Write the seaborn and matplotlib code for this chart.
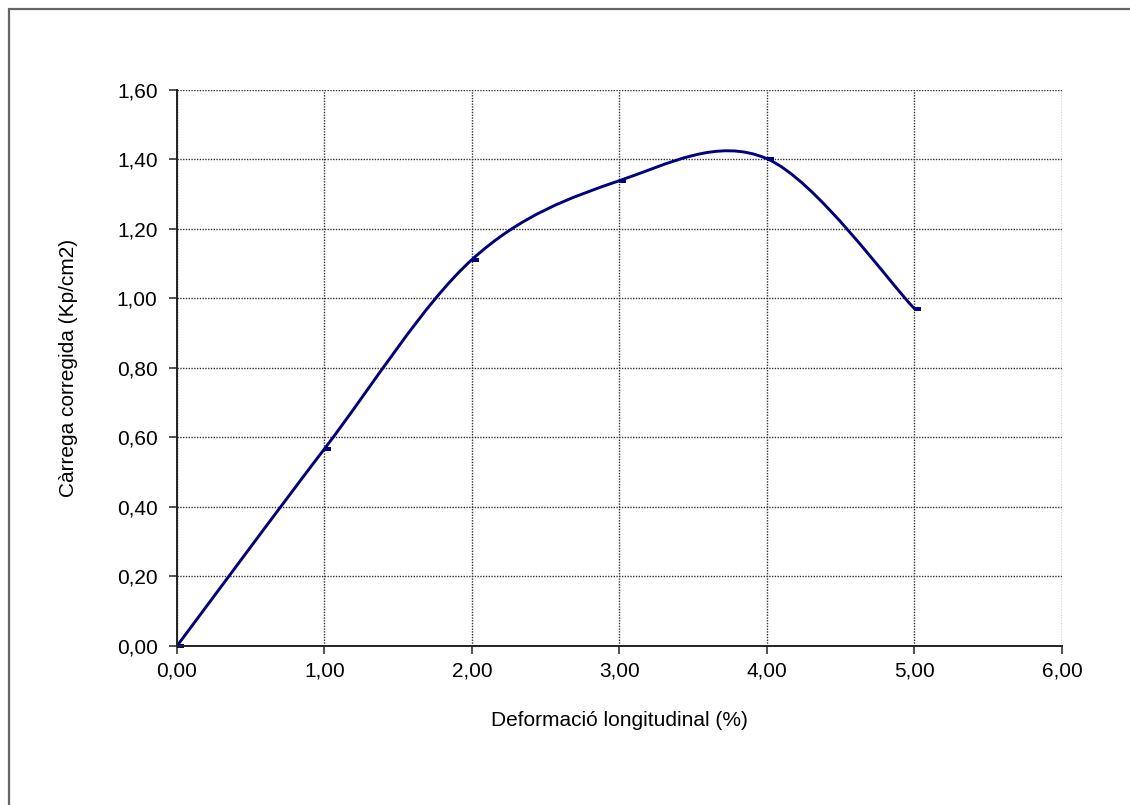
import numpy as np
import pandas as pd
import matplotlib
matplotlib.use("Agg")
import matplotlib.pyplot as plt
import seaborn as sns
from matplotlib.path import Path
from matplotlib.patches import PathPatch, Rectangle
from matplotlib.ticker import FuncFormatter, MultipleLocator

# Data
deformacio = [0.0, 1.0, 2.0, 3.0, 4.0, 5.0]
carrega = [0.0, 0.567, 1.111, 1.338, 1.401, 0.970]

x_label = "Deformació longitudinal (%)"
y_label = "Càrrega corregida (Kp/cm2)"

df = pd.DataFrame({"x": deformacio, "y": carrega})

sns.set_theme(style="white")
plt.rcParams["font.family"] = ["Liberation Sans", "DejaVu Sans"]

fig = plt.figure(figsize=(11.3, 8.05), dpi=100)
ax = fig.add_axes([0.1566, 0.1975, 0.9398 - 0.1566, 0.8888 - 0.1975])

navy = "#000080"

# Excel-style smoothed line: cubic Bezier segments through the points
pts = df[["x", "y"]].to_numpy()
n = len(pts)
verts = [tuple(pts[0])]
codes = [Path.MOVETO]
for i in range(n - 1):
    p0 = pts[max(i - 1, 0)]
    p1 = pts[i]
    p2 = pts[i + 1]
    p3 = pts[min(i + 2, n - 1)]
    c1 = p1 + (p2 - p0) / 6.0
    c2 = p2 - (p3 - p1) / 6.0
    verts += [tuple(c1), tuple(c2), tuple(p2)]
    codes += [Path.CURVE4] * 3
ax.add_patch(PathPatch(Path(verts, codes), facecolor="none", edgecolor=navy,
                       lw=2.1, zorder=3, capstyle="round", joinstyle="round"))

# dash markers sitting just right of each point
dash = [(0, -0.8), (2.8, -0.8), (2.8, 0.8), (0, 0.8), (0, -0.8)]
sns.scatterplot(data=df, x="x", y="y", marker=dash, s=100, color=navy,
                linewidth=0, ax=ax, zorder=4, clip_on=False)

ax.set_xlim(0, 6)
ax.set_ylim(0, 1.6)
ax.xaxis.set_major_locator(MultipleLocator(1))
ax.yaxis.set_major_locator(MultipleLocator(0.2))
fmt = FuncFormatter(lambda v, p: f"{v:.2f}".replace(".", ","))
ax.xaxis.set_major_formatter(fmt)
ax.yaxis.set_major_formatter(fmt)

ax.grid(True, color="#333333", linestyle=(0, (1, 1)), linewidth=1.0)
ax.set_axisbelow(True)
for side in ["top", "right"]:
    ax.spines[side].set_visible(False)
for side in ["left", "bottom"]:
    ax.spines[side].set_color("#222222")
    ax.spines[side].set_linewidth(1.4)
    ax.spines[side].set_zorder(5)

ax.tick_params(axis="both", which="major", direction="out", length=6,
               width=1.2, color="#333333", labelsize=15, labelcolor="black",
               left=True, bottom=True)
ax.tick_params(axis="y", pad=8)
ax.tick_params(axis="x", pad=5)

ax.set_xlabel(x_label, fontsize=15, color="black", labelpad=22)
ax.set_ylabel(y_label, fontsize=15, color="black", labelpad=28)

# outer chart-area border (only top and left edges fall inside the image)
fig.patches.append(Rectangle((9 / 1130, -0.1), 1.2, 1.1 - 9.5 / 805,
                             transform=fig.transFigure, fill=False,
                             edgecolor="#666666", lw=1.6))

fig.savefig("out.png", dpi=100, facecolor="white")
